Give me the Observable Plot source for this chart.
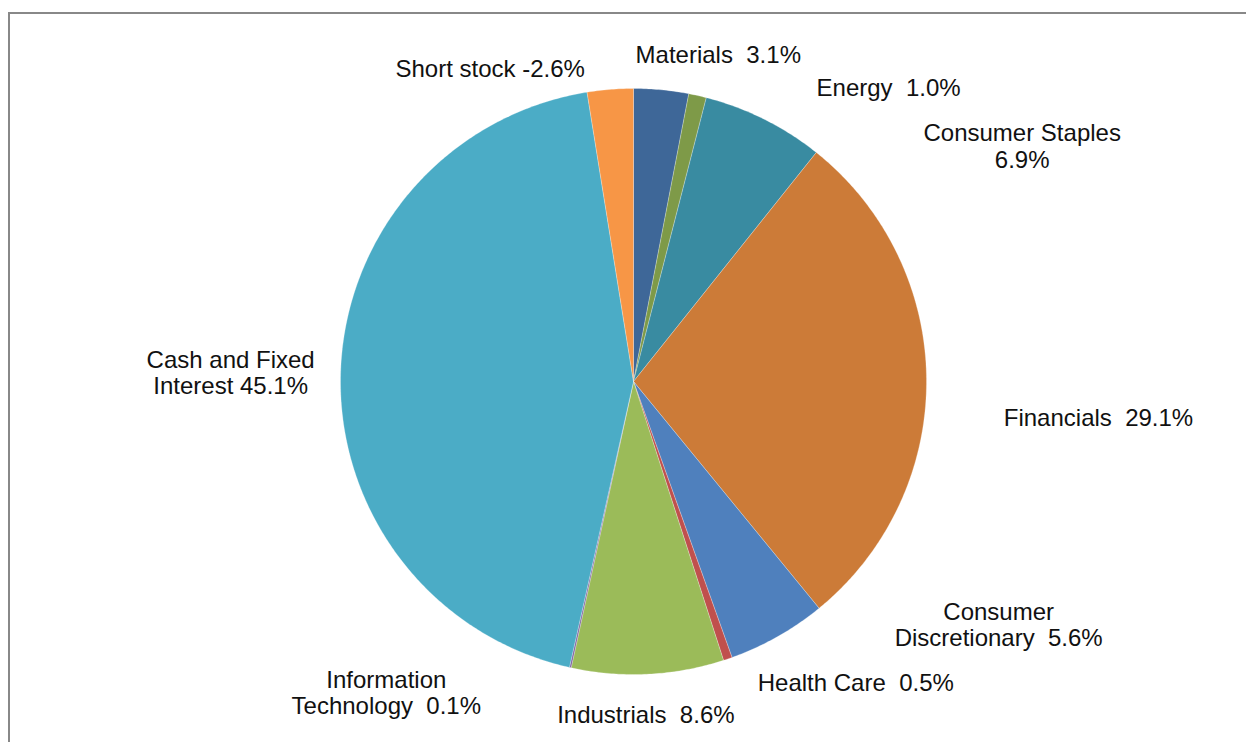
<!DOCTYPE html>
<html><head><meta charset="utf-8">
<script src="https://cdn.jsdelivr.net/npm/d3@7"></script>
<script src="https://cdn.jsdelivr.net/npm/@observablehq/plot@0.6"></script>
<style>
html,body{margin:0;padding:0;background:#fff;overflow:hidden}
#wrap{position:relative;width:1246px;height:742px;overflow:hidden}
#border{position:absolute;left:8px;top:12px;width:1300px;height:800px;border:2px solid #888;box-sizing:border-box}
#chart{position:absolute;left:0;top:0}
</style></head><body>
<div id="wrap"><div id="border"></div><div id="chart"></div></div>
<script>
// ---- data ----
const sectors = ["Materials", "Energy", "Consumer Staples", "Financials", "Consumer Discretionary",
  "Health Care", "Industrials", "Information Technology", "Cash and Fixed Interest", "Short stock"];
const weights = [3.1, 1.0, 6.9, 29.1, 5.6, 0.5, 8.6, 0.1, 45.1, -2.6];
const labelPrefixes = ["Materials  ", "Energy  ", "Consumer Staples\n", "Financials  ", "Consumer\nDiscretionary  ",
  "Health Care  ", "Industrials  ", "Information\nTechnology  ", "Cash and Fixed\nInterest ", "Short stock "];

// ---- styling / layout ----
const palette = ["#3E6798", "#7E9A48", "#398BA1", "#CC7B38", "#4F80BD", "#C0504D", "#9BBB59", "#8064A2", "#4BACC6", "#F79646"];
const labelNudge = [[57,-35],[191,-8],[258,27],[172,38],[221,-12],[128,24],[-2,40],[-184,25],[-110,0],[-120,-21]];

const total = d3.sum(weights, Math.abs);
let acc = 0;
const slices = sectors.map((s, i) => {
  const a0 = acc / total * 2 * Math.PI;
  acc += Math.abs(weights[i]);
  const a1 = acc / total * 2 * Math.PI;
  return {sector: s, weight: weights[i], a0, a1, mid: (a0 + a1) / 2,
    label: labelPrefixes[i] + weights[i].toFixed(1) + "%"};
});
const pts = slices.flatMap(d => {
  const n = Math.max(2, Math.ceil((d.a1 - d.a0) / (Math.PI / 360)));
  const arr = [{sector: d.sector, x: 0, y: 0}];
  for (let k = 0; k <= n; k++) {
    const a = d.a0 + (d.a1 - d.a0) * k / n;
    arr.push({sector: d.sector, x: Math.sin(a), y: Math.cos(a)});
  }
  arr.push({sector: d.sector, x: 0, y: 0});
  return arr;
});

const textMarks = slices.map((d, i) => Plot.text([d], {
  x: d => Math.sin(d.mid), y: d => Math.cos(d.mid), text: "label",
  dx: labelNudge[i][0], dy: labelNudge[i][1],
  textAnchor: "middle", lineAnchor: "middle", lineHeight: 1.11,
  fontSize: 24, fill: "#111"
}));

const chart = Plot.plot({
  width: 1246, height: 742,
  marginLeft: 340, marginRight: 320, marginTop: 88, marginBottom: 68,
  style: {fontFamily: "'Liberation Sans', Arial, sans-serif", background: "transparent", overflow: "visible"},
  x: {domain: [-1, 1], axis: null},
  y: {domain: [-1, 1], axis: null},
  color: {domain: sectors, range: palette},
  marks: [
    Plot.line(pts, {x: "x", y: "y", z: "sector", fill: "sector", stroke: "white", strokeWidth: 0.5, strokeOpacity: 0.5, strokeLinejoin: "miter"}),
    ...textMarks
  ]
});
document.getElementById("chart").appendChild(chart);
</script>
</body></html>
